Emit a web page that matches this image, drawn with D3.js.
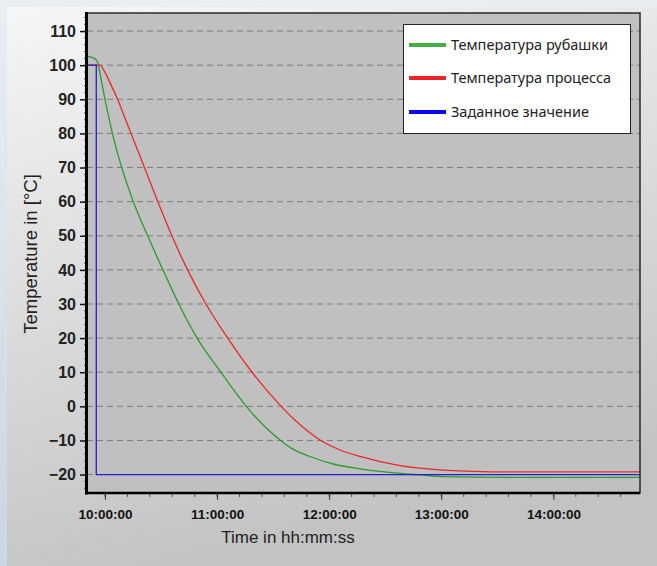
<!DOCTYPE html>
<html lang="ru">
<head>
<meta charset="UTF-8">
<title>Temperature</title>
<style>
  body { margin: 0; padding: 0; background: #e6ecf2; }
  svg { display: block; }
</style>
</head>
<body>
<svg id="chart"></svg>
<script src="https://d3js.org/d3.v7.min.js"></script>
<script>
// series
const jacketTime = ["09:50:22", "09:53:02", "09:55:43", "09:58:14", "10:01:04", "10:04:26", "10:07:07",
  "10:15:09", "10:22:51", "10:31:00", "10:39:30", "10:49:18", "11:02:00", "11:15:36", "11:34:00",
  "11:40:48", "11:49:42", "12:02:12", "12:16:30", "12:30:48", "12:48:36", "13:02:00", "13:31:24", "14:46:21"];
const jacketTemp = [102.5, 102.3, 101.3, 94.9, 87.1, 79.0, 73.4,
  60, 50, 40, 30, 20, 10, 0, -10,
  -12.6, -14.7, -16.9, -18.3, -19.3, -20.1, -20.6, -20.8, -20.8];

const processTime = ["09:50:22", "09:57:20", "09:59:05", "10:02:40", "10:07:07", "10:11:37", "10:15:09", "10:21:06",
  "10:28:18", "10:35:48", "10:44:12", "10:54:00", "11:05:42", "11:18:42", "11:34:18", "11:41:12",
  "11:55:30", "12:05:48", "12:16:29", "12:37:54", "12:59:18", "13:10:00", "13:31:25", "14:46:21"];
const processTemp = [100, 100, 98.8, 94.9, 89.5, 83.2, 78.3, 70,
  60, 50, 40, 30, 20, 10, 0, -3.8,
  -10, -12.8, -14.7, -17.4, -18.6, -18.9, -19.2, -19.2];

const setpointTime = ["09:50:22", "09:55:20", "09:55:20", "14:46:21"];
const setpointTemp = [100, 100, -20, -20];

const seriesNames = ["Температура рубашки", "Температура процесса", "Заданное значение"];
const lineColors = ["#2e9a2e", "#e82828", "#2020d8"];
const legendColors = ["#44b044", "#ee2228", "#0808ee"];

const yTicks = [-20, -10, 0, 10, 20, 30, 40, 50, 60, 70, 80, 90, 100, 110];
const xTickLabels = ["10:00:00", "11:00:00", "12:00:00", "13:00:00", "14:00:00"];

const W = 657, H = 566;
const plot = { left: 87, top: 13, right: 640, bottom: 493 };
const parse = d3.timeParse("%H:%M:%S");

const svg = d3.select("#chart").attr("width", W).attr("height", H);

const defs = svg.append("defs");
const outerGrad = defs.append("linearGradient").attr("id", "outer").attr("x1", 0).attr("y1", 0).attr("x2", 0).attr("y2", 1);
outerGrad.append("stop").attr("offset", "0%").attr("stop-color", "#e9eef3");
outerGrad.append("stop").attr("offset", "100%").attr("stop-color", "#c9d6e3");
const panelGrad = defs.append("linearGradient").attr("id", "panel").attr("x1", 0).attr("y1", 0).attr("x2", 0.3).attr("y2", 1);
panelGrad.append("stop").attr("offset", "0%").attr("stop-color", "#f6f6f6");
panelGrad.append("stop").attr("offset", "100%").attr("stop-color", "#c3c3c3");

svg.append("rect").attr("width", W).attr("height", H).attr("fill", "url(#outer)");
svg.append("rect").attr("x", 7).attr("y", 7).attr("width", W - 7).attr("height", H - 7).attr("fill", "url(#panel)");

const x = d3.scaleTime()
  .domain([parse("09:50:22"), parse("14:46:21")])
  .range([plot.left, plot.right]);
const y = d3.scaleLinear()
  .domain([-25.4, 115.3])
  .range([plot.bottom, plot.top]);

svg.append("rect")
  .attr("x", plot.left).attr("y", plot.top)
  .attr("width", plot.right - plot.left).attr("height", plot.bottom - plot.top)
  .attr("fill", "#c0c0c0");

// grid
svg.append("g").selectAll("line").data(yTicks).join("line")
  .attr("x1", plot.left).attr("x2", plot.right)
  .attr("y1", d => y(d)).attr("y2", d => y(d))
  .attr("stroke", "#7c7c7c").attr("stroke-width", 1)
  .attr("stroke-dasharray", "6,4");

// lines
const smooth = d3.line().curve(d3.curveMonotoneX).x(d => x(d[0])).y(d => y(d[1]));
const straight = d3.line().x(d => x(d[0])).y(d => y(d[1]));
const series = [
  d3.zip(jacketTime.map(parse), jacketTemp),
  d3.zip(processTime.map(parse), processTemp),
  d3.zip(setpointTime.map(parse), setpointTemp)
];
const clip = defs.append("clipPath").attr("id", "clip");
clip.append("rect").attr("x", plot.left).attr("y", plot.top)
  .attr("width", plot.right - plot.left).attr("height", plot.bottom - plot.top);
svg.append("g").attr("clip-path", "url(#clip)")
  .selectAll("path").data(series).join("path")
  .attr("d", (d, i) => i === 2 ? straight(d) : smooth(d))
  .attr("fill", "none")
  .attr("stroke", (d, i) => lineColors[i])
  .attr("stroke-width", 1.3);

// frame
svg.append("rect")
  .attr("x", plot.left).attr("y", plot.top)
  .attr("width", plot.right - plot.left).attr("height", plot.bottom - plot.top)
  .attr("fill", "none").attr("stroke", "#2a2a2a").attr("stroke-width", 1.5);

// y axis
const yMinor = d3.range(-24, 116, 2);
const yAxis = svg.append("g").attr("transform", `translate(${plot.left},0)`);
yAxis.selectAll(".minor").data(yMinor).join("line")
  .attr("x1", -3).attr("x2", 0).attr("y1", d => y(d)).attr("y2", d => y(d))
  .attr("stroke", "#555");
yAxis.call(d3.axisLeft(y).tickValues(yTicks).tickSize(7).tickPadding(4))
  .call(g => g.select(".domain").remove())
  .call(g => g.selectAll(".tick line").attr("stroke", "#111").attr("stroke-width", 1.5))
  .call(g => g.selectAll(".tick text")
    .attr("font-family", "Liberation Sans, Arial, sans-serif")
    .attr("font-weight", "bold").attr("font-size", 16).attr("fill", "#222"));
svg.append("line")
  .attr("x1", plot.left - 0.5).attr("x2", plot.left - 0.5)
  .attr("y1", plot.top - 1).attr("y2", plot.bottom + 1.5)
  .attr("stroke", "#000").attr("stroke-width", 3);

// x axis
const xMinor = d3.timeMinute.every(12).range(x.domain()[0], x.domain()[1]);
const xAxis = svg.append("g").attr("transform", `translate(0,${plot.bottom})`);
xAxis.selectAll(".minor").data(xMinor).join("line")
  .attr("x1", d => x(d)).attr("x2", d => x(d)).attr("y1", 0).attr("y2", 4)
  .attr("stroke", "#555");
xAxis.call(d3.axisBottom(x)
    .tickValues(xTickLabels.map(parse))
    .tickFormat(d3.timeFormat("%H:%M:%S"))
    .tickSize(7).tickPadding(9))
  .call(g => g.select(".domain").remove())
  .call(g => g.selectAll(".tick line").attr("stroke", "#333"))
  .call(g => g.selectAll(".tick text")
    .attr("font-family", "Liberation Sans, Arial, sans-serif")
    .attr("font-weight", "bold").attr("font-size", 13.5).attr("fill", "#111"));
svg.append("line")
  .attr("x1", plot.left - 2).attr("x2", plot.right)
  .attr("y1", plot.bottom).attr("y2", plot.bottom)
  .attr("stroke", "#000").attr("stroke-width", 2.5);

// axis titles
svg.append("text")
  .attr("x", 288).attr("y", 543)
  .attr("text-anchor", "middle")
  .attr("font-family", "Liberation Sans, Arial, sans-serif")
  .attr("font-size", 17).attr("fill", "#222")
  .text("Time in hh:mm:ss");
svg.append("text")
  .attr("transform", "translate(37,254) rotate(-90)")
  .attr("text-anchor", "middle")
  .attr("font-family", "Liberation Sans, Arial, sans-serif")
  .attr("font-size", 18.5).attr("fill", "#222")
  .text("Temperature in [°C]");

// legend
const legend = svg.append("g");
legend.append("rect")
  .attr("x", 403.5).attr("y", 24.5).attr("width", 227).attr("height", 109)
  .attr("fill", "#fff").attr("stroke", "#222").attr("stroke-width", 1);
const rowY = [45, 78, 112];
const items = legend.selectAll(".item").data(seriesNames).join("g")
  .attr("transform", (d, i) => `translate(0,${rowY[i]})`);
items.append("line")
  .attr("x1", 409).attr("x2", 446)
  .attr("stroke", (d, i) => legendColors[i]).attr("stroke-width", 4);
items.append("text")
  .attr("x", 451).attr("y", 5)
  .attr("font-family", "Noto Sans, Open Sans, sans-serif")
  .attr("font-size", 14.5).attr("fill", "#222")
  .text(d => d);
</script>
</body>
</html>
